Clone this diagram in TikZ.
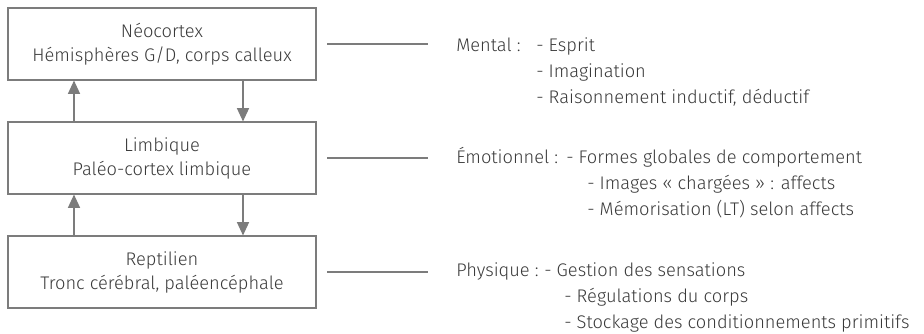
\documentclass[tikz,border=0pt]{standalone}
\usepackage{fontspec}
\setmainfont{Fira Sans}[UprightFont=* Light]
\usetikzlibrary{arrows.meta}

\definecolor{inkgray}{HTML}{3A3A3A}
\definecolor{rulegray}{HTML}{7C7C7C}

\begin{document}
\begin{tikzpicture}[
    x=0.75pt, y=-0.75pt,
    level/.style={draw=rulegray, line width=0.8pt, minimum width=231pt,
                  minimum height=54pt, align=center, text=inkgray,
                  font=\fontsize{13.7}{18}\selectfont},
    flow/.style={rulegray, line width=1.1pt, -{Triangle[length=10pt, width=9pt]}},
    link/.style={rulegray, line width=0.8pt},
    role/.style={anchor=base west, inner sep=0pt, text=inkgray,
                 font=\fontsize{13.7}{18}\selectfont}
]

% ---------- frame ----------
\useasboundingbox (0,0) rectangle (924,333);

% ---------- the three levels ----------
\node[level] (neo) at (162,44)  {Néocortex\\Hémisphères G/D, corps calleux};
\node[level] (lim) at (162,158) {Limbique\\Paléo-cortex limbique};
\node[level] (rep) at (162,272) {Reptilien\\Tronc cérébral, paléencéphale};

% ---------- arrows between levels ----------
\coordinate (upx) at (74,0);
\coordinate (downx) at (243,0);
\draw[flow] (lim.north -| upx) -- (neo.south -| upx);
\draw[flow] (neo.south -| downx) -- (lim.north -| downx);
\draw[flow] (rep.north -| upx) -- (lim.south -| upx);
\draw[flow] (lim.south -| downx) -- (rep.north -| downx);

% ---------- mental ----------
\node[role] (mental) at (456,51) {Mental :};
\node[role] at (536,51)  {- Esprit};
\node[role] at (536,77)  {- Imagination};
\node[role] at (536,103) {- Raisonnement inductif, déductif};

% ---------- emotionnel ----------
\node[role] (emo) at (456,163) {Émotionnel :};
\node[role] at (566,163) {- Formes globales de comportement};
\node[role] at (587,189) {- Images « chargées » : affects};
\node[role] at (587,215) {- Mémorisation (LT) selon affects};

% ---------- physique ----------
\node[role] (phys) at (456,276) {Physique :};
\node[role] at (544,276) {- Gestion des sensations};
\node[role] at (564,302) {- Régulations du corps};
\node[role] at (564,328) {- Stockage des conditionnements primitifs};

% ---------- links to the roles ----------
\draw[link] ([xshift=8pt]neo.east) -- ([xshift=-21pt]neo.east -| mental.west);
\draw[link] ([xshift=8pt]lim.east) -- ([xshift=-21pt]lim.east -| emo.west);
\draw[link] ([xshift=8pt]rep.east) -- ([xshift=-21pt]rep.east -| phys.west);

\end{tikzpicture}
\end{document}
